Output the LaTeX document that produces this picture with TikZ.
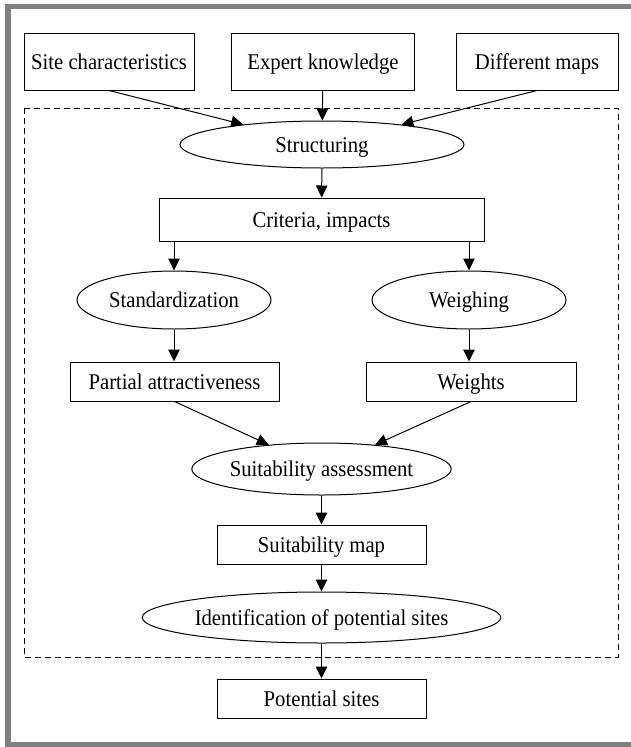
\documentclass[tikz,border=0pt]{standalone}
\usepackage{fontspec}
\setmainfont[FakeStretch=0.92]{Liberation Serif}
\usetikzlibrary{shapes.geometric, arrows.meta}

\begin{document}
\begin{tikzpicture}[
                x=1pt, y=-1pt,
                every node/.style={font=\fontsize{22.5}{26}\selectfont, inner sep=0pt, text height=16pt, text depth=1pt},
                block/.style={rectangle,draw=black,line width=1pt},
                process/.style={ellipse,draw=black,line width=1pt},
                link/.style={line width=1pt,-{Triangle[length=12pt,width=11.5pt]}},
                frame/.style={draw={rgb,255:red,128;green,128;blue,128},line width=5.5pt},
            ]
            \useasboundingbox (0,0) rectangle (631,747);

            % Outer frame
            \draw[frame] (631,6.5) -- (8,6.5) -- (8,745) -- (631,745);

            % Define nodes
            \node[block, minimum width=170pt, minimum height=57pt] (site) at (109,61.5) {Site characteristics};
            \node[block, minimum width=183pt, minimum height=57pt] (expert) at (323,61.5) {Expert knowledge};
            \node[block, minimum width=162pt, minimum height=57pt] (maps) at (537,61.5) {Different maps};
            \node[process, minimum width=284pt, minimum height=47pt] (struct) at (322,144.5) {Structuring};
            \node[block, minimum width=325pt, minimum height=43pt] (crit) at (321.5,219.5) {Criteria, impacts};
            \node[process, minimum width=194pt, minimum height=58pt] (stand) at (174,300) {Standardization};
            \node[process, minimum width=194pt, minimum height=58pt] (weigh) at (469,300) {Weighing};
            \node[block, minimum width=209pt, minimum height=39pt] (partial) at (174.5,381.5) {Partial attractiveness};
            \node[block, minimum width=210pt, minimum height=39pt] (weights) at (471,381.5) {Weights};
            \node[process, minimum width=239pt, minimum height=52pt] (assess) at (321.5,469) {Suitability assessment};
            \node[block, minimum width=209pt, minimum height=39pt] (smap) at (321.5,544.5) {Suitability map};
            \node[process, minimum width=301pt, minimum height=51pt] (ident) at (321.5,617.5) {Identification of potential sites};
            \node[block, minimum width=209pt, minimum height=39pt] (sites) at (321.5,698.5) {Potential sites};

            % Dashed group
            \draw[line width=1pt, dash pattern=on 6pt off 4pt] (24,108) rectangle (618,657);

            % Draw connections
            \draw[link] (site.south) -- (struct);
            \draw[link] (expert) -- (struct);
            \draw[link] (maps.south) -- (struct);
            \draw[link] (struct) -- (crit);
            \draw[link] (crit.south -| stand) -- (stand);
            \draw[link] (crit.south -| weigh) -- (weigh);
            \draw[link] (stand) -- (partial.north -| stand);
            \draw[link] (weigh) -- (weights.north -| weigh);
            \draw[link] (partial.south) -- (assess);
            \draw[link] (weights.south) -- (assess);
            \draw[link] (assess) -- (smap);
            \draw[link] (smap) -- (ident);
            \draw[link] (ident) -- (sites);

            \end{tikzpicture}
\end{document}
